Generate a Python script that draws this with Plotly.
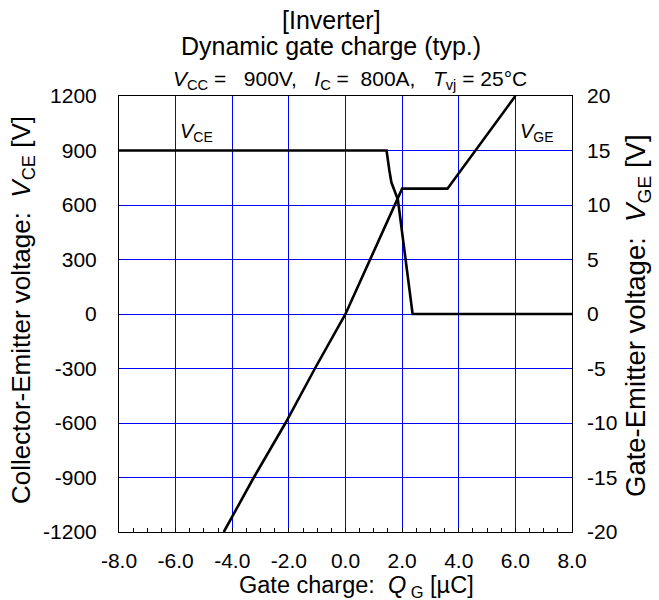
import plotly.graph_objects as go

# Gate charge axis [µC]
qg_vce = [-8.0, 1.45, 1.55, 1.62, 1.85, 2.37, 8.0]
vce = [900, 900, 790, 725, 630, 0, 0]

qg_vge = [-4.30, -3.24, -2.12, -1.08, 0.0, 2.0, 3.6, 6.0]
vge = [-20, -15, -10, -5, 0, 11.5, 11.5, 20]

x_ticks = [-8.0, -6.0, -4.0, -2.0, 0.0, 2.0, 4.0, 6.0, 8.0]
y1_ticks = [-1200, -900, -600, -300, 0, 300, 600, 900, 1200]
y2_ticks = [-20, -15, -10, -5, 0, 5, 10, 15, 20]

FONT = "Liberation Sans, Arial, sans-serif"
GRID = "#0000FF"
W, H = 659, 600
ML, MR, MT, MB = 119, 87, 96, 68
PW, PH = W - ML - MR, H - MT - MB


def paper(xp, yp):
    """Convert figure pixel coordinates to paper coordinates."""
    return (xp - ML) / PW, (H - MB - yp) / PH


fig = go.Figure()
fig.add_trace(go.Scatter(x=qg_vce, y=vce, mode="lines",
                         line=dict(color="black", width=2.6), yaxis="y"))
fig.add_trace(go.Scatter(x=qg_vge, y=vge, mode="lines",
                         line=dict(color="black", width=2.6), yaxis="y2"))

fig.update_layout(
    width=W, height=H,
    margin=dict(l=ML, r=MR, t=MT, b=MB),
    paper_bgcolor="white", plot_bgcolor="white",
    showlegend=False,
    font=dict(family=FONT, size=21, color="black"),
    xaxis=dict(
        range=[-8, 8], tickvals=x_ticks,
        ticktext=[f"{v:.1f}" for v in x_ticks],
        showgrid=True, gridcolor=GRID, gridwidth=1,
        zeroline=False, showline=True, linecolor="black", linewidth=1,
        mirror=True, ticks="inside", ticklen=4, tickcolor="black",
        minor=dict(dtick=0.5, ticks="inside", ticklen=4, tickcolor="black",
                   showgrid=False),
        ticklabelstandoff=10,
    ),
    yaxis=dict(
        range=[-1200, 1200], tickvals=y1_ticks,
        ticktext=[str(v) for v in y1_ticks],
        showgrid=True, gridcolor=GRID, gridwidth=1,
        zeroline=False, showline=True, linecolor="black", linewidth=1,
        mirror=True, ticks="", ticklabelstandoff=17,
    ),
    yaxis2=dict(
        range=[-20, 20], tickvals=y2_ticks,
        ticktext=[str(v) for v in y2_ticks],
        overlaying="y", side="right",
        showgrid=False, zeroline=False, showline=False, ticks="",
        ticklabelstandoff=14,
    ),
)

annotations = []


def add_text(text, xp, yp, size, angle=0, xanchor="center"):
    xa, ya = paper(xp, yp)
    annotations.append(dict(text=text, x=xa, y=ya, xref="paper", yref="paper",
                            xanchor=xanchor, yanchor="middle",
                            textangle=angle, showarrow=False,
                            font=dict(size=size)))


add_text("[Inverter]", 331, 20, 25)
add_text("Dynamic gate charge (typ.)", 331, 46, 25)
add_text("<i>V</i><sub>CC</sub> =   900V,   <i>I</i><sub>C</sub> =  800A,   "
         "<i>T</i><sub>vj</sub> = 25°C", 350, 80, 21)
add_text("Gate charge:  <i>Q</i><sub> G</sub> [µC]", 356, 586, 23.5)
add_text("Collector-Emitter voltage:  <i>V</i><sub>CE</sub> [V]", 22, 310, 26, angle=-90)
add_text("Gate-Emitter voltage:  <i>V</i><sub>GE</sub> [V]", 637, 316, 27.5, angle=-90)

# Curve labels placed in data coordinates
annotations.append(dict(text="<i>V</i><sub>CE</sub>", x=-5.9, y=900, xref="x", yref="y",
                        xanchor="left", yanchor="middle", yshift=18,
                        showarrow=False, font=dict(size=20)))
annotations.append(dict(text="<i>V</i><sub>GE</sub>", x=6.1, y=900, xref="x", yref="y",
                        xanchor="left", yanchor="middle", yshift=18,
                        showarrow=False, font=dict(size=20)))

fig.update_layout(annotations=annotations)

fig.write_html("out.html")
